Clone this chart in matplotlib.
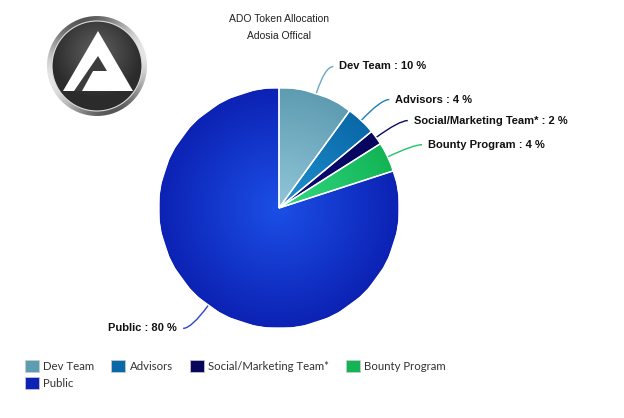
import matplotlib
matplotlib.use("Agg")
import matplotlib.pyplot as plt
import numpy as np
from matplotlib.patches import Circle, Polygon, Patch, PathPatch
from matplotlib.path import Path

categories = ["Dev Team", "Advisors", "Social/Marketing Team*", "Bounty Program", "Public"]
values = [10, 4, 2, 4, 80]
# (center, edge) colours of each slice's radial gradient
inner_colors = ["#92c6d9", "#1f92d2", "#0d0d78", "#34da84", "#1c4fe6"]
outer_colors = ["#5e9cb2", "#0a68a8", "#06065c", "#12b455", "#0c22b4"]
line_colors = ["#6aa8c0", "#1a80c0", "#0a0a70", "#20c468", "#2a44d0"]

title = "ADO Token Allocation"
subtitle = "Adosia Offical"

W, H = 624, 418
fig = plt.figure(figsize=(W / 100, H / 100), dpi=100)


def hex_rgb(c):
    return np.array(matplotlib.colors.to_rgb(c))


# pie axes, 240 px square centred at (279, 208)
cx, cy, R = 279, 208, 120
ax = fig.add_axes([(cx - R) / W, (H - cy - R) / H, 2 * R / W, 2 * R / H])

wedges, _ = ax.pie(values, colors=outer_colors, startangle=90, counterclock=False,
                   radius=1, wedgeprops=dict(edgecolor="white", linewidth=1))
ax.axis("off")

yy, xx = np.mgrid[1:-1:300j, -1:1:300j]
rr = np.clip(np.sqrt(xx ** 2 + yy ** 2), 0, 1)[..., None]
for w, c0, c1 in zip(wedges, inner_colors, outer_colors):
    img = hex_rgb(c0) * (1 - rr) + hex_rgb(c1) * rr
    im = ax.imshow(img, extent=(-1, 1, -1, 1), zorder=1, interpolation="bilinear")
    im.set_clip_path(w)
    w.set_zorder(0)
    ax.add_patch(Polygon(w.get_path().vertices, closed=True, transform=w.get_transform(),
                         fill=False, edgecolor="white", linewidth=1, zorder=2))
ax.set_xlim(-1, 1)
ax.set_ylim(-1, 1)

# labels with curved connectors
total = sum(values)
start = 90.0
for name, v, lc in zip(categories, values, line_colors):
    mid = start - v / total * 360 / 2
    start -= v / total * 360
    a = np.deg2rad(mid)
    p0 = (np.cos(a), np.sin(a))
    p1 = (1.24 * np.cos(a), 1.24 * np.sin(a))
    side = 1 if np.cos(a) >= 0 else -1
    p2 = (p1[0] + side * 0.07, p1[1])
    path = Path([p0, p1, p2], [Path.MOVETO, Path.CURVE3, Path.CURVE3])
    ax.add_patch(PathPatch(path, fill=False, edgecolor=lc, linewidth=1, clip_on=False))
    ax.text(p2[0] + side * 0.05, p2[1], f"{name} : {v} %", ha="left" if side > 0 else "right",
            va="center", fontsize=8, fontweight="bold", family="Liberation Sans",
            color="#111111", clip_on=False)

fig.text(cx / W, 1 - 19 / H, title, ha="center", va="center", fontsize=7.5,
         family="Liberation Sans", color="#222222")
fig.text(cx / W, 1 - 36 / H, subtitle, ha="center", va="center", fontsize=7.5,
         family="Liberation Sans", color="#222222")

# legend: Public goes to the second row under Dev Team
order = [0, 4, 1, 2, 3]
handles = [Patch(facecolor=outer_colors[i], edgecolor="#cccccc", linewidth=0.5) for i in order]
labels = [categories[i] for i in order]
fig.legend(handles, labels, ncol=4, loc="upper left", bbox_to_anchor=(25 / W, 1 - 360 / H),
           frameon=False, prop=dict(family="Lato", size=8.2), handlelength=1.2,
           handleheight=1.2, handletextpad=0.4, columnspacing=1.5, labelspacing=0.5,
           borderpad=0, borderaxespad=0, labelcolor="#333333")

# logo, drawn in pixel coordinates
lax = fig.add_axes([0, 0, 1, 1], zorder=-1)
lax.set_xlim(0, W)
lax.set_ylim(H, 0)
lax.axis("off")
lx, ly = 97, 66
ring = Circle((lx, ly), 50, facecolor="none", edgecolor="none")
lax.add_patch(ring)
gy, gx = np.mgrid[-1:1:200j, -1:1:200j]
ang = np.arctan2(gy, gx)
shade = 0.62 + 0.28 * np.cos(2 * ang + 0.6)
im = lax.imshow(np.dstack([shade] * 3), extent=(lx - 50, lx + 50, ly + 50, ly - 50), zorder=1)
im.set_clip_path(ring)
disk = Circle((lx, ly), 45, facecolor="none", edgecolor="#dddddd", linewidth=0.8, zorder=3)
lax.add_patch(disk)
dr = np.clip(np.sqrt(gx ** 2 + (gy + 0.3) ** 2), 0, 1)
dshade = 0.38 * (1 - dr) + 0.17 * dr
im2 = lax.imshow(np.dstack([dshade] * 3), extent=(lx - 45, lx + 45, ly + 45, ly - 45), zorder=2)
im2.set_clip_path(disk)
lax.add_patch(Polygon([(98, 31), (63, 91), (133, 91)], closed=True, facecolor="white",
                      edgecolor="none", zorder=4))
lax.add_patch(Polygon([(98, 56), (107, 71), (93, 71), (82, 91), (74, 91)], closed=True,
                      facecolor="#3c3c3c", edgecolor="none", zorder=5))

fig.savefig("out.png", dpi=100, facecolor="white")
